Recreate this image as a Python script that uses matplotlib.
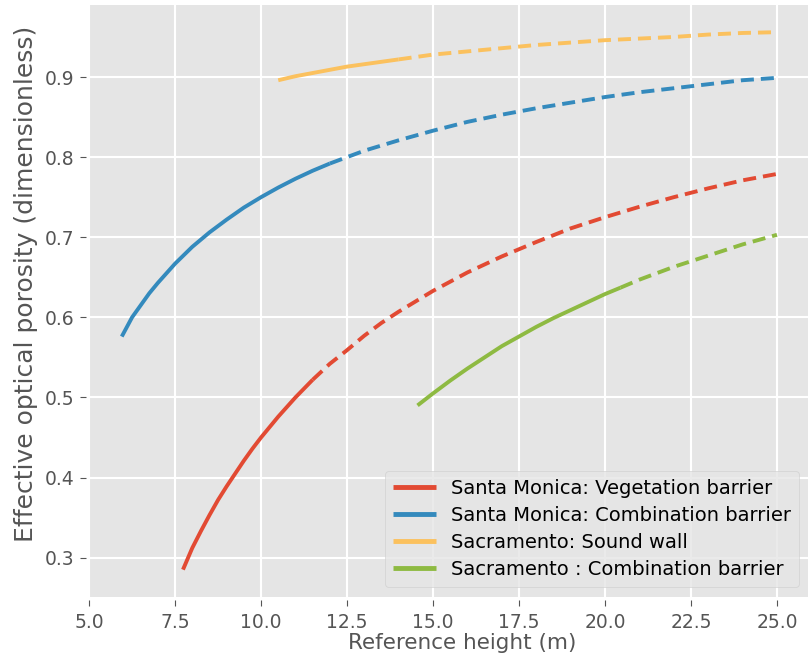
import matplotlib
matplotlib.use("Agg")
import matplotlib.pyplot as plt

plt.style.use("ggplot")
plt.rcParams["font.family"] = ["DejaVu Sans"]

# Santa Monica: vegetation barrier (solid = measured range, dashed = extrapolated)
veg_x_solid = [7.73, 8.0, 8.25, 8.5, 8.75, 9.0, 9.25, 9.5, 9.75, 10.0, 10.5, 11.0, 11.5]
veg_y_solid = [0.285, 0.312, 0.333, 0.353, 0.372, 0.389, 0.405, 0.421, 0.436, 0.450, 0.476, 0.500, 0.522]
veg_x_dash = [11.5, 12.0, 12.5, 13.0, 13.5, 14.0, 15.0, 16.0, 17.0, 18.0, 19.0, 20.0, 21.0, 22.0, 23.0, 24.0, 25.0]
veg_y_dash = [0.522, 0.542, 0.559, 0.577, 0.593, 0.607, 0.633, 0.656, 0.676, 0.694, 0.711, 0.725, 0.738, 0.750, 0.761, 0.771, 0.779]

# Santa Monica: combination barrier
smc_x_solid = [5.95, 6.25, 6.5, 6.75, 7.0, 7.5, 8.0, 8.5, 9.0, 9.5, 10.0, 10.5, 11.0, 11.5, 12.0]
smc_y_solid = [0.576, 0.600, 0.615, 0.630, 0.643, 0.667, 0.688, 0.706, 0.722, 0.737, 0.750, 0.762, 0.773, 0.783, 0.792]
smc_x_dash = [12.0, 13.0, 14.0, 15.0, 16.0, 17.0, 18.0, 19.0, 20.0, 21.0, 22.0, 23.0, 24.0, 25.0]
smc_y_dash = [0.792, 0.808, 0.821, 0.833, 0.844, 0.853, 0.861, 0.868, 0.875, 0.881, 0.886, 0.891, 0.896, 0.899]

# Sacramento: sound wall
sw_x_solid = [10.5, 11.0, 11.5, 12.0, 12.5, 13.0, 13.5, 14.0]
sw_y_solid = [0.896, 0.901, 0.905, 0.909, 0.913, 0.916, 0.919, 0.922]
sw_x_dash = [14.0, 15.0, 16.0, 17.0, 18.0, 19.0, 20.0, 21.0, 22.0, 23.0, 24.0, 25.0]
sw_y_dash = [0.922, 0.928, 0.932, 0.936, 0.940, 0.943, 0.946, 0.948, 0.950, 0.953, 0.955, 0.956]

# Sacramento: combination barrier
sc_x_solid = [14.55, 15.0, 15.5, 16.0, 16.5, 17.0, 17.5, 18.0, 18.5, 19.0, 19.5, 20.0, 20.45]
sc_y_solid = [0.490, 0.505, 0.521, 0.536, 0.550, 0.564, 0.576, 0.588, 0.599, 0.609, 0.619, 0.629, 0.637]
sc_x_dash = [20.45, 21.0, 22.0, 23.0, 24.0, 25.0]
sc_y_dash = [0.637, 0.647, 0.663, 0.677, 0.691, 0.703]

labels = [
    "Santa Monica: Vegetation barrier",
    "Santa Monica: Combination barrier",
    "Sacramento: Sound wall",
    "Sacramento : Combination barrier",
]
colors = ["#E24A33", "#348ABD", "#FBC15E", "#8EBA42"]

series = [
    (veg_x_solid, veg_y_solid, veg_x_dash, veg_y_dash),
    (smc_x_solid, smc_y_solid, smc_x_dash, smc_y_dash),
    (sw_x_solid, sw_y_solid, sw_x_dash, sw_y_dash),
    (sc_x_solid, sc_y_solid, sc_x_dash, sc_y_dash),
]

fig = plt.figure(figsize=(8.08, 6.62), dpi=100)
W, H = 808, 662
ax_left, ax_bottom_px, ax_top_px, ax_w = 89, 596.5, 5.3, 720.7
ax_h = ax_bottom_px - ax_top_px
ax = fig.add_axes([ax_left / W, (H - ax_bottom_px) / H, ax_w / W, ax_h / H])
ax.grid(True, color="white", lw=1.5)

lw = 2.8
for (xs, ys, xd, yd), lab, col in zip(series, labels, colors):
    ax.plot(xs, ys, color=col, lw=lw, ls="-", label=lab, solid_capstyle="butt")
    ax.plot(xd, yd, color=col, lw=lw, ls=(0, (3.35, 1.8)))

for side in ["left", "bottom"]:
    ax.spines[side].set_position(("outward", 2.5))
for sp in ax.spines.values():
    sp.set_visible(False)

ax.set_xticks([5.0, 7.5, 10.0, 12.5, 15.0, 17.5, 20.0, 22.5, 25.0])
ax.set_yticks([0.3, 0.4, 0.5, 0.6, 0.7, 0.8, 0.9])
ax.tick_params(labelsize=13.5, length=4.5, colors="#555555")
ax.tick_params(axis="x", pad=5)
ax.set_xlabel("Reference height (m)", fontsize=15.5, color="#555555")
ax.set_ylabel("Effective optical porosity (dimensionless)", fontsize=18, color="#555555")
ax.xaxis.set_label_coords((462 - ax_left) / ax_w, (ax_bottom_px - 633) / ax_h)
ax.yaxis.set_label_coords((38 - ax_left) / ax_w, (ax_bottom_px - 283.5) / ax_h)

leg = ax.legend(loc="lower right", fontsize=14, handlelength=2.2, labelspacing=0.42,
                bbox_to_anchor=((799 - ax_left) / ax_w, (ax_bottom_px - 587) / ax_h),
                borderaxespad=0)
for h in leg.get_lines():
    h.set_linewidth(3.5)

fig.savefig("out.png", dpi=100)
